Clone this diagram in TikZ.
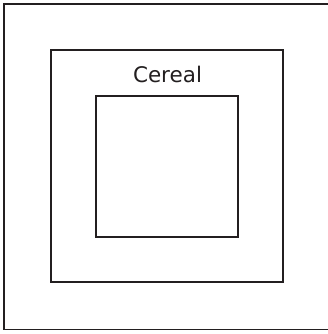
\documentclass[tikz,border=0pt]{standalone}
\usepackage{fontspec}
\setmainfont{DejaVu Sans}
\usepackage{tikz}
\usetikzlibrary{positioning}
\definecolor{inkline}{HTML}{231f20}
\tikzset{
  box/.style={rectangle, draw=inkline, line width=1.7pt, fill=none, inner sep=0pt},
  tag/.style={text=inkline, font=\fontsize{21.5}{25}\selectfont, inner sep=0pt},
}
\begin{document}
\begin{tikzpicture}[x=1pt, y=-1pt]
  \useasboundingbox (0,0) rectangle (328,334);
  \node[box, minimum width=334pt, minimum height=325.5pt] (outer) at (171,166.75) {};
  \node[box, minimum width=232pt, minimum height=232pt] (middle) at (167,166) {};
  \node[box, minimum width=142pt, minimum height=141pt] (inner) at (167,166.5) {};
  \node[tag, anchor=base] (cereal) at (167.5,83) {Cereal};
\end{tikzpicture}
\end{document}
